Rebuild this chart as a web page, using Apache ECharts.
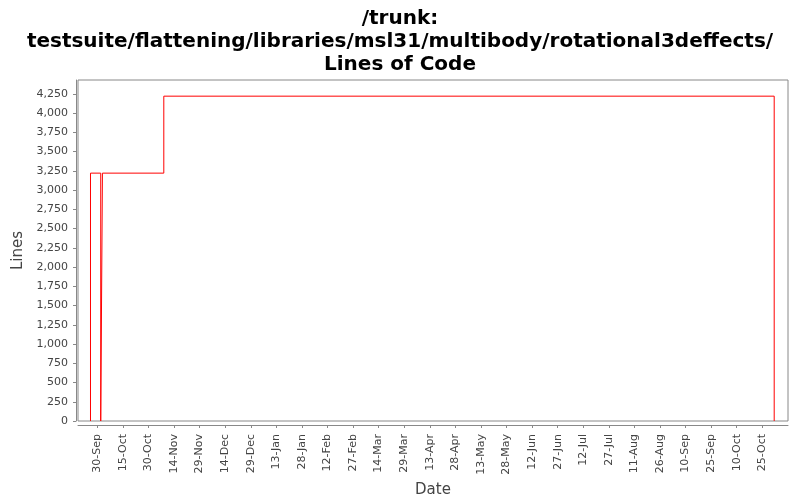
<!DOCTYPE html>
<html>
<head>
<meta charset="utf-8">
<script src="https://cdn.jsdelivr.net/npm/echarts@6/dist/echarts.min.js"></script>
<style>html,body{margin:0;padding:0;background:#fff}#c{width:800px;height:500px}</style>
</head>
<body>
<div id="c"></div>
<script>
// Data: step series of lines of code over time
var pointDates = ['2012-09-26','2012-09-26','2012-10-02','2012-10-03','2012-11-08','2013-11-01','2013-11-01'];
var pointLines = [0, 3220, 0, 3220, 4220, 4220, 0];
// X tick labels (every 15 days)
var xTickDates = ['2012-09-30','2012-10-15','2012-10-30','2012-11-14','2012-11-29','2012-12-14','2012-12-29',
  '2013-01-13','2013-01-28','2013-02-12','2013-02-27','2013-03-14','2013-03-29','2013-04-13','2013-04-28',
  '2013-05-13','2013-05-28','2013-06-12','2013-06-27','2013-07-12','2013-07-27','2013-08-11','2013-08-26',
  '2013-09-10','2013-09-25','2013-10-10','2013-10-25'];
// Y tick values
var yTicks = [0,250,500,750,1000,1250,1500,1750,2000,2250,2500,2750,3000,3250,3500,3750,4000,4250];

var MON = ['Jan','Feb','Mar','Apr','May','Jun','Jul','Aug','Sep','Oct','Nov','Dec'];
function toMs(s){ var p = s.split('-'); return Date.UTC(+p[0], +p[1]-1, +p[2]); }
function fmtDate(v){ var d = new Date(v); return d.getUTCDate() + '-' + MON[d.getUTCMonth()]; }
function fmtNum(v){ return String(v).replace(/\B(?=(\d{3})+(?!\d))/g, ','); }

var seriesData = pointDates.map(function(d, i){ return [toMs(d), pointLines[i]]; });
var xTicks = xTickDates.map(toMs);
var DAY = 86400000;

var chart = echarts.init(document.getElementById('c'), null, {renderer:'canvas'});
chart.setOption({
  animation: false,
  backgroundColor: '#ffffff',
  title: {
    text: '/trunk:\ntestsuite/flattening/libraries/msl31/multibody/rotational3deffects/\nLines of Code',
    left: 'center', top: 2,
    textStyle: {fontFamily: 'DejaVu Sans', fontWeight: 'bold', fontSize: 20, lineHeight: 23, color: '#000'}
  },
  grid: {left: 78, right: 12, top: 80, bottom: 79, show: true, borderColor: '#888', borderWidth: 1, backgroundColor: '#fff',
         containLabel: false, outerBoundsMode: 'none'},
  xAxis: {
    type: 'value',
    min: toMs('2012-09-30') - 11.33*DAY,
    max: toMs('2012-09-30') + 405.1*DAY,
    offset: 4,
    name: 'Date', nameLocation: 'middle', nameGap: 52,
    nameTextStyle: {fontFamily: 'DejaVu Sans', fontSize: 15, color: '#444'},
    splitLine: {show: false},
    axisLine: {show: true, onZero: false, lineStyle: {color: '#888', width: 1}},
    axisTick: {show: true, length: 3, customValues: xTicks, lineStyle: {color: '#888'}},
    axisLabel: {customValues: xTicks, rotate: 90, formatter: fmtDate, fontFamily: 'DejaVu Sans', fontSize: 11, color: '#444', margin: 9}
  },
  yAxis: {
    type: 'value',
    min: 0, max: 4430,
    offset: 2,
    name: 'Lines', nameLocation: 'middle', nameGap: 47, nameRotate: 90,
    nameTextStyle: {fontFamily: 'DejaVu Sans', fontSize: 15, color: '#444'},
    splitLine: {show: false},
    axisLine: {show: true, lineStyle: {color: '#888', width: 1}},
    axisTick: {show: true, length: 3, customValues: yTicks, lineStyle: {color: '#888'}},
    axisLabel: {customValues: yTicks, formatter: fmtNum, fontFamily: 'DejaVu Sans', fontSize: 11, color: '#444', margin: 8}
  },
  series: [{
    type: 'line',
    step: 'end',
    data: seriesData,
    showSymbol: false,
    lineStyle: {color: '#ff0000', width: 1},
    itemStyle: {color: '#ff0000'}
  }]
});
</script>
</body>
</html>
